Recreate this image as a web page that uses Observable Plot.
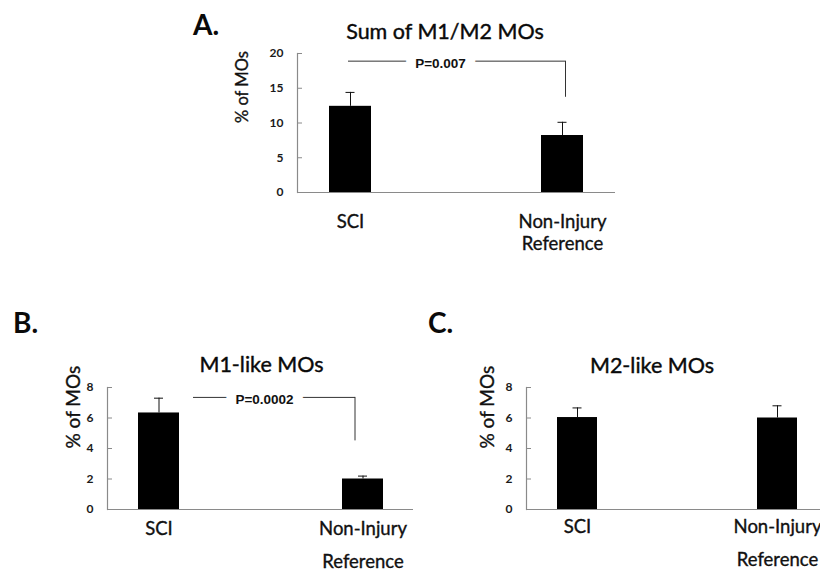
<!DOCTYPE html>
<html><head><meta charset="utf-8">
<script src="https://cdn.jsdelivr.net/npm/d3@7"></script>
<script src="https://cdn.jsdelivr.net/npm/@observablehq/plot@0.6"></script>
<style>
body{margin:0;width:820px;height:572px;overflow:hidden;background:#fff;position:relative;font-family:Lato,sans-serif;}
.p{position:absolute;}
.t{position:absolute;white-space:nowrap;color:#0a0a0a;line-height:1;}
.letter{font-weight:bold;font-size:28px;}
.title{font-size:21.5px;transform:translateX(-50%);-webkit-text-stroke:0.4px #0a0a0a;}
g[aria-label="x-axis tick label"]{stroke:#111;stroke-width:0.35px;}
</style></head><body>
<script>
const categories = ["SCI", "Non-Injury\nReference"];
const sumMeans = [12.4, 8.2];
const sumErrors = [2.0, 1.9];
const m1Means = [6.33, 2.0];
const m1Errors = [0.97, 0.19];
const m2Means = [6.03, 6.0];
const m2Errors = [0.63, 0.8];
const sumTicks = [0, 5, 10, 15, 20];
const pctTicks = [0, 2, 4, 6, 8];
const panelLetters = ["A.", "B.", "C."];
const panelTitles = ["Sum of M1/M2 MOs", "M1-like MOs", "M2-like MOs"];
const yLabel = "% of MOs";
const sumBracket = [{y: 18.9, drop: 13.7, label: "P=0.007"}];
const m1Bracket = [{y: 7.35, drop: 4.5, label: "P=0.0002"}];

const AXIS = "#8a8a8a";
const INK = "#111";

function panel(o) {
  const rows = categories.map((c, i) => ({cat: c, v: o.means[i], hi: o.means[i] + o.errors[i]}));
  const plotW = o.width - o.ml - o.mr;
  const marks = [
    Plot.barY(rows, {x: "cat", y: "v", fill: "#000"}),
    Plot.ruleX(rows, {x: "cat", y1: "v", y2: "hi", stroke: INK, strokeWidth: 1}),
    Plot.tickY(rows, {x: "cat", y: "hi", stroke: INK, strokeWidth: 1, insetLeft: o.cap, insetRight: o.cap}),
    Plot.ruleY([0], {stroke: AXIS, strokeWidth: 1.2}),
    Plot.frame({anchor: "left", stroke: AXIS, strokeWidth: 1.2}),
    Plot.tickY(o.ticks, {y: d => d, stroke: AXIS, strokeWidth: 1, insetRight: plotW - 5}),
    Plot.axisY({ticks: o.ticks, tickSize: 0, tickPadding: 14, fontSize: 12, fontWeight: "bold", fill: "#1a1a1a", label: null}),
    Plot.axisX({tickSize: 0, tickPadding: o.xPad, fontSize: 18.5, lineHeight: o.lh, fill: INK, label: null}),
    Plot.text([yLabel], {frameAnchor: "left", rotate: -90, dx: o.yLabelDx, fontSize: o.yLabelSize, fill: INK, stroke: INK, strokeWidth: 0.35})
  ];
  if (o.bracket) {
    const b = o.bracket;
    marks.push(
      Plot.ruleY(b, {y: "y", x1: () => categories[0], x2: () => categories[1], stroke: "#333", strokeWidth: 1, insetLeft: o.bInsetL, insetRight: o.bInsetR}),
      Plot.ruleX(b, {x: () => categories[1], y1: "drop", y2: "y", dx: o.dropDx, stroke: "#333", strokeWidth: 1}),
      Plot.text(b, {y: "y", text: "label", frameAnchor: "middle", dx: o.textDx, dy: o.textDy, fontSize: 13.5, fontWeight: "bold", fontFamily: "Liberation Sans, Arial, sans-serif", fill: INK, stroke: "#fff", strokeWidth: 20, paintOrder: "stroke"})
    );
  }
  const svg = Plot.plot({
    width: o.width, height: o.height,
    marginLeft: o.ml, marginRight: o.mr, marginTop: o.mt, marginBottom: o.mb,
    style: {fontFamily: "Lato, sans-serif", background: "transparent", overflow: "visible"},
    x: {domain: categories, paddingInner: 0.8, paddingOuter: 0.15, axis: null},
    y: {domain: [0, o.ymax], axis: null},
    marks
  });
  svg.classList.add("p");
  svg.style.left = o.left + "px";
  svg.style.top = o.top + "px";
  document.body.appendChild(svg);
}

panel({means: sumMeans, errors: sumErrors, ticks: sumTicks, ymax: 20, bracket: sumBracket,
  left: 0, top: 0, width: 640, height: 260, ml: 297, mr: 25, mt: 53, mb: 68,
  cap: 16.5, xPad: 19, lh: 1.22, yLabelDx: -55, yLabelSize: 16.5,
  bInsetL: 19, bInsetR: 18, dropDx: 3, textDx: -16, textDy: 3});
panel({means: m1Means, errors: m1Errors, ticks: pctTicks, ymax: 8, bracket: m1Bracket,
  left: 0, top: 300, width: 420, height: 272, ml: 107, mr: 7, mt: 87, mb: 63,
  cap: 16, xPad: 2.6, lh: 1.78, yLabelDx: -33.5, yLabelSize: 19,
  bInsetL: 55, bInsetR: 28, dropDx: -8, textDx: 4, textDy: 2.5});
panel({means: m2Means, errors: m2Errors, ticks: pctTicks, ymax: 8, bracket: null,
  left: 410, top: 300, width: 420, height: 272, ml: 116, mr: 3, mt: 87, mb: 63,
  cap: 15.5, xPad: 0.6, lh: 1.78, yLabelDx: -39, yLabelSize: 19});

const letterPos = [[193, 9.6], [13, 307.6], [428, 307.6]];
const titlePos = [[445, 20.8], [261.5, 354.3], [652, 355.3]];
panelLetters.forEach((t, i) => {
  const d = document.createElement("div");
  d.className = "t letter"; d.textContent = t;
  d.style.left = letterPos[i][0] + "px"; d.style.top = letterPos[i][1] + "px";
  document.body.appendChild(d);
});
panelTitles.forEach((t, i) => {
  const d = document.createElement("div");
  d.className = "t title"; d.textContent = t;
  d.style.left = titlePos[i][0] + "px"; d.style.top = titlePos[i][1] + "px";
  document.body.appendChild(d);
});
</script>
</body></html>
